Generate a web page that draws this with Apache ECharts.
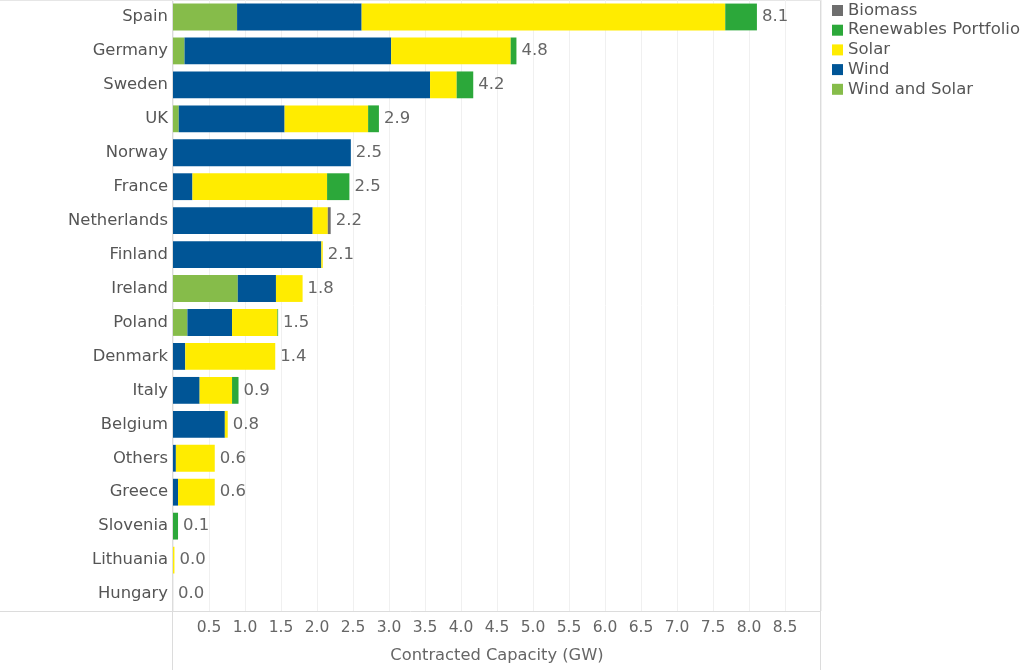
<!DOCTYPE html>
<html>
<head>
<meta charset="utf-8">
<script src="https://cdn.jsdelivr.net/npm/echarts@6/dist/echarts.min.js"></script>
<style>html,body{margin:0;padding:0;background:#fff}#c{width:1024px;height:670px}</style>
</head>
<body>
<div id="c"></div>
<script>
const categories = ['Spain','Germany','Sweden','UK','Norway','France','Netherlands','Finland','Ireland','Poland','Denmark','Italy','Belgium','Others','Greece','Slovenia','Lithuania','Hungary'];
const windAndSolar = [0.89,0.16,0,0.08,0,0,0,0,0.90,0.20,0,0,0,0,0,0,0,0];
const wind         = [1.73,2.87,3.57,1.47,2.47,0.27,1.94,2.06,0.53,0.62,0.17,0.37,0.72,0.04,0.07,0,0,0];
const solar        = [5.05,1.66,0.37,1.16,0,1.87,0.21,0.02,0.37,0.63,1.25,0.45,0.04,0.54,0.51,0,0.02,0];
const renewablesPortfolio = [0.44,0.08,0.23,0.15,0,0.31,0,0,0,0.01,0,0.09,0,0,0,0.07,0,0];
const biomass      = [0,0,0,0,0,0,0.04,0,0,0,0,0,0,0,0,0,0,0];
const totalLabels  = ['8.1','4.8','4.2','2.9','2.5','2.5','2.2','2.1','1.8','1.5','1.4','0.9','0.8','0.6','0.6','0.1','0.0','0.0'];
const seriesNames = ['Wind and Solar','Wind','Solar','Renewables Portfolio','Biomass'];
const legendOrder = ['Biomass','Renewables Portfolio','Solar','Wind','Wind and Solar'];
const colors = {'Wind and Solar':'#86BC4A','Wind':'#005596','Solar':'#FFEC00','Renewables Portfolio':'#2CA83A','Biomass':'#6E6E6E'};
const seriesData = [windAndSolar, wind, solar, renewablesPortfolio, biomass];

const chart = echarts.init(document.getElementById('c'), null, {renderer:'canvas'});
const font = 'DejaVu Sans';
const series = seriesNames.map((n,i)=>({
  name:n, type:'bar', stack:'a', data:seriesData[i],
  itemStyle:{color:colors[n]}, barCategoryGap:'21%', emphasis:{disabled:true}
}));
series.push({
  name:'total', type:'bar', stack:'a', data:categories.map(()=>0),
  itemStyle:{color:'transparent'}, silent:true,
  label:{show:true, position:'right', distance:5, color:'#666', fontSize:16.5, fontFamily:font,
    formatter:p=>totalLabels[p.dataIndex]}
});
chart.setOption({
  animation:false,
  color:seriesNames.map(n=>colors[n]),
  grid:{left:173, top:0, width:648, bottom:59, containLabel:false},
  legend:{
    data:legendOrder.map(n=>({name:n})), orient:'vertical', left:832, top:2, padding:0,
    icon:'rect', itemWidth:11, itemHeight:11, itemGap:2.7,
    textStyle:{fontFamily:font, fontSize:16.5, color:'#555', lineHeight:16}, selectedMode:false
  },
  xAxis:{
    type:'value', min:0, max:9, interval:0.5,
    name:'Contracted Capacity (GW)', nameLocation:'middle', nameGap:37,
    nameTextStyle:{fontFamily:font, fontSize:16.3, color:'#666'},
    axisLine:{show:false}, axisTick:{show:false},
    axisLabel:{fontFamily:font, fontSize:15.5, color:'#666', margin:9,
      formatter:v=>(v===0||v===9)?'':v.toFixed(1)},
    splitLine:{show:true, lineStyle:{color:'#f0f0f0', width:1}}
  },
  yAxis:{
    type:'category', data:categories, inverse:true,
    axisLine:{show:false}, axisTick:{show:false},
    axisLabel:{fontFamily:font, fontSize:16.4, color:'#555', margin:5}
  },
  series:series,
  graphic:[
    {type:'line', shape:{x1:0,y1:611.5,x2:821,y2:611.5}, style:{stroke:'#dcdcdc', lineWidth:1}, silent:true},
    {type:'line', shape:{x1:172.5,y1:0,x2:172.5,y2:670}, style:{stroke:'#dcdcdc', lineWidth:1}, silent:true},
    {type:'line', shape:{x1:820.5,y1:0,x2:820.5,y2:670}, style:{stroke:'#dcdcdc', lineWidth:1}, silent:true},
    {type:'line', shape:{x1:0,y1:0.5,x2:821,y2:0.5}, style:{stroke:'#e6e6e6', lineWidth:1}, silent:true}
  ]
});
</script>
</body>
</html>
